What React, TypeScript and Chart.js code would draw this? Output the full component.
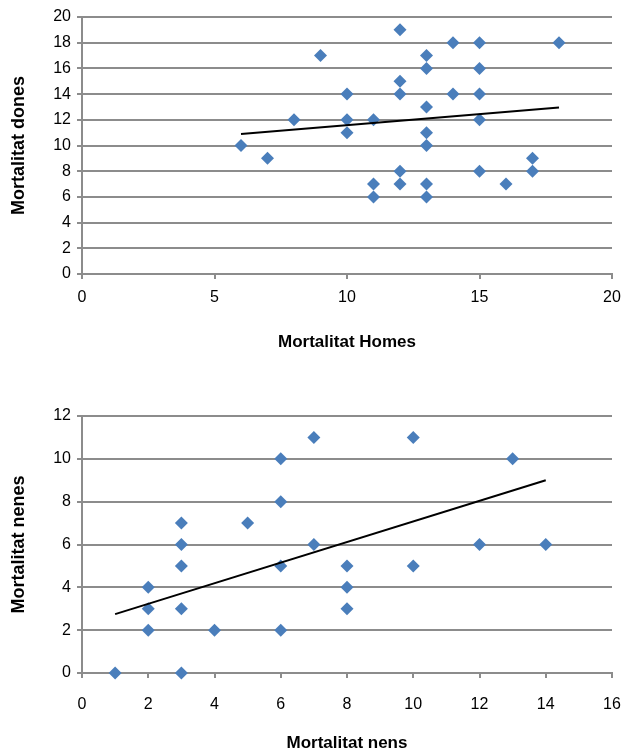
import React, { useEffect, useRef } from "react";
import { Chart, registerables } from "chart.js";

Chart.register(...registerables);

// Chart 1: Mortalitat Homes (x) vs Mortalitat dones (y)
const homesX = [6, 7, 8, 9, 10, 10, 10, 11, 11, 11, 12, 12, 12, 12, 12, 13, 13, 13, 13, 13, 13, 13, 14, 14, 15, 15, 15, 15, 15, 16, 17, 17, 18];
const donesY = [10, 9, 12, 17, 14, 12, 11, 12, 7, 6, 19, 15, 14, 8, 7, 17, 16, 13, 11, 10, 7, 6, 18, 14, 18, 16, 14, 12, 8, 7, 9, 8, 18];
const trend1X = [6, 18];
const trend1Y = [10.9, 12.95];

// Chart 2: Mortalitat nens (x) vs Mortalitat nenes (y)
const nensX = [1, 2, 2, 2, 3, 3, 3, 3, 3, 4, 5, 6, 6, 6, 6, 7, 7, 8, 8, 8, 10, 10, 12, 13, 14];
const nenesY = [0, 4, 3, 2, 7, 6, 5, 3, 0, 2, 7, 10, 8, 5, 2, 11, 6, 5, 4, 3, 11, 5, 6, 10, 6];
const trend2X = [1, 14];
const trend2Y = [2.75, 9.0];

const FONT = "'Liberation Sans', Arial, sans-serif";
const GRID = "#8c8c8c";
const BLUE = "#4a7ebb";

type Cfg = {
  xs: number[];
  ys: number[];
  tx: number[];
  ty: number[];
  xMax: number;
  xStep: number;
  yMax: number;
  yStep: number;
  xTitle: string;
  yTitle: string;
  height: number;
  padTop: number;
  xScaleHeight: number;
  xTickPad: number;
  xTitlePadBottom: number;
};

function ScatterChart({ cfg }: { cfg: Cfg }) {
  const ref = useRef<HTMLCanvasElement | null>(null);
  useEffect(() => {
    if (!ref.current) return;
    const points = cfg.xs.map((x, i) => ({ x, y: cfg.ys[i] }));
    const trend = cfg.tx.map((x, i) => ({ x, y: cfg.ty[i] }));
    const chart = new Chart(ref.current, {
      type: "scatter",
      data: {
        datasets: [
          {
            data: trend,
            showLine: true,
            borderColor: "#000000",
            borderWidth: 2,
            pointRadius: 0,
            clip: false as any,
          },
          {
            data: points,
            pointStyle: "rectRot",
            pointRadius: 6.5,
            pointBackgroundColor: BLUE,
            pointBorderColor: BLUE,
            pointBorderWidth: 0,
            clip: false as any,
          },
        ],
      },
      options: {
        animation: false,
        responsive: false,
        devicePixelRatio: 1,
        layout: { padding: { top: cfg.padTop, right: 11, bottom: 0, left: 0 } },
        plugins: { legend: { display: false }, tooltip: { enabled: false } },
        scales: {
          x: {
            type: "linear",
            min: 0,
            max: cfg.xMax,
            afterFit: (s: any) => {
              s.height = cfg.xScaleHeight;
              s.paddingRight = 0;
              s.paddingLeft = 0;
            },
            ticks: {
              stepSize: cfg.xStep,
              color: "#000000",
              font: { family: FONT, size: 16 },
              padding: cfg.xTickPad,
              maxRotation: 0,
            },
            grid: {
              drawOnChartArea: false,
              drawTicks: true,
              tickLength: 5,
              color: GRID,
              lineWidth: 2,
            },
            border: { display: true, color: GRID, width: 2 },
            title: {
              display: true,
              text: cfg.xTitle,
              color: "#000000",
              font: { family: FONT, size: 17, weight: "bold" },
              padding: { top: 0, bottom: cfg.xTitlePadBottom },
            },
          },
          y: {
            type: "linear",
            min: 0,
            max: cfg.yMax,
            afterFit: (s: any) => {
              s.width = 82;
            },
            ticks: {
              stepSize: cfg.yStep,
              color: "#000000",
              font: { family: FONT, size: 16 },
              padding: 6,
            },
            grid: {
              drawOnChartArea: true,
              drawTicks: true,
              tickLength: 5,
              color: GRID,
              lineWidth: 2,
            },
            border: { display: true, color: GRID, width: 2 },
            title: {
              display: true,
              text: cfg.yTitle,
              color: "#000000",
              font: { family: FONT, size: 18, weight: "bold" },
              padding: { top: 8.2, bottom: 0 },
            },
          },
        },
      },
    });
    return () => chart.destroy();
  }, [cfg]);
  return <canvas ref={ref} width={623} height={cfg.height} style={{ display: "block" }} />;
}

const cfg1: Cfg = {
  xs: homesX,
  ys: donesY,
  tx: trend1X,
  ty: trend1Y,
  xMax: 20,
  xStep: 5,
  yMax: 20,
  yStep: 2,
  xTitle: "Mortalitat Homes",
  yTitle: "Mortalitat dones",
  height: 370,
  padTop: 17,
  xScaleHeight: 96,
  xTickPad: 9,
  xTitlePadBottom: 17.8,
};

const cfg2: Cfg = {
  xs: nensX,
  ys: nenesY,
  tx: trend2X,
  ty: trend2Y,
  xMax: 16,
  xStep: 2,
  yMax: 12,
  yStep: 2,
  xTitle: "Mortalitat nens",
  yTitle: "Mortalitat nenes",
  height: 386,
  padTop: 46,
  xScaleHeight: 83,
  xTickPad: 17.4,
  xTitlePadBottom: 2.8,
};

export default function App() {
  return (
    <div style={{ position: "absolute", top: 0, left: 0, width: 623, height: 756, background: "#ffffff" }}>
      <ScatterChart cfg={cfg1} />
      <ScatterChart cfg={cfg2} />
    </div>
  );
}
